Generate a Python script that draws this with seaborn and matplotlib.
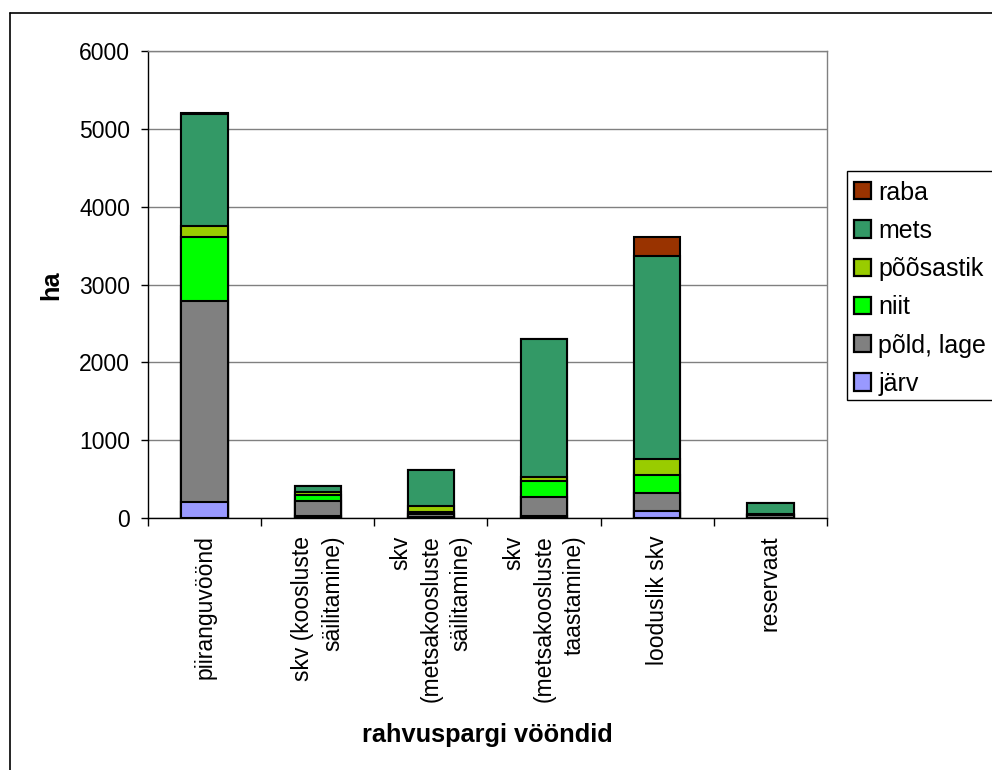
import matplotlib
matplotlib.use("Agg")
import matplotlib.pyplot as plt
from matplotlib.patches import Patch, Rectangle
from matplotlib.lines import Line2D
import numpy as np
import pandas as pd
import seaborn as sns

# Zones of the national park (x categories)
zones = [
    "piiranguvöönd",
    "skv (koosluste\nsäilitamine)",
    "skv\n(metsakoosluste\nsäilitamine)",
    "skv\n(metsakoosluste\ntaastamine)",
    "looduslik skv",
    "reservaat",
]

# Land-cover areas per zone, hectares (stacked bottom -> top)
jarv = [200, 30, 15, 30, 90, 5]
pold_lage = [2585, 190, 40, 240, 230, 30]
niit = [830, 75, 20, 200, 230, 5]
poosastik = [140, 40, 80, 60, 210, 5]
mets = [1440, 75, 465, 1770, 2600, 145]
raba = [10, 0, 0, 0, 250, 0]

layer_names = ["järv", "põld, lage", "niit", "põõsastik", "mets", "raba"]
layer_values = [jarv, pold_lage, niit, poosastik, mets, raba]
layer_colors = ["#9999FF", "#808080", "#00FF00", "#99CC00", "#339966", "#993300"]

sns.set_theme(style="white")
plt.rcParams["font.family"] = ["Liberation Sans", "DejaVu Sans"]
plt.rcParams["text.color"] = "black"
plt.rcParams["axes.labelcolor"] = "black"
plt.rcParams["xtick.color"] = "black"
plt.rcParams["ytick.color"] = "black"

W, H = 992, 770
fig = plt.figure(figsize=(W / 100, H / 100), dpi=100)
ax = fig.add_axes([148 / W, 1 - 518 / H, (827 - 148) / W, (518 - 51) / H])

# Stacked bars: draw cumulative totals from the top layer down
cum = np.cumsum(np.array(layer_values, dtype=float), axis=0)
for i in range(len(layer_names) - 1, -1, -1):
    df = pd.DataFrame({"zone": zones, "area": cum[i]})
    sns.barplot(data=df, x="zone", y="area", color=layer_colors[i],
                saturation=1, width=0.41, edgecolor="black", linewidth=1.5,
                ax=ax, zorder=3)

ax.set_ylim(0, 6000)
ax.set_xlim(-0.5, len(zones) - 0.5)
ax.set_yticks(range(0, 6001, 1000))
ax.yaxis.grid(True, color="#808080", linewidth=1.0, zorder=0)
ax.set_axisbelow(True)

for s in ["top", "right"]:
    ax.spines[s].set_color("#808080")
    ax.spines[s].set_linewidth(1.0)
for s in ["left", "bottom"]:
    ax.spines[s].set_color("black")
    ax.spines[s].set_linewidth(1.0)

ax.tick_params(axis="y", which="both", left=True, direction="out", length=5,
               width=1, color="black", labelsize=16.5, pad=8, labelcolor="black")
# category separators as x tick marks
ax.set_xticks(np.arange(len(zones)))
ax.set_xticklabels([])
ax.tick_params(axis="x", which="major", bottom=False)
ax.set_xticks(np.arange(-0.5, len(zones), 1.0), minor=True)
ax.tick_params(axis="x", which="minor", bottom=True, direction="out", length=6,
               width=1, color="black")
for i, z in enumerate(zones):
    ax.text(i, -225, z, rotation=90, ha="center", va="top", fontsize=16.5,
            multialignment="right", linespacing=1.4, color="black",
            transform=ax.transData, clip_on=False)

ax.set_xlabel("")
ax.set_ylabel("")
fig.text(487 / W, 1 - 735 / H, "rahvuspargi vööndid",
         ha="center", va="center", fontsize=18.3, fontweight="bold", color="black")
fig.text(51 / W, 1 - 285 / H, "ha", rotation=90, ha="center",
         va="center", fontsize=18.3, fontweight="bold", color="black")

# legend box, running off the right edge
fig.add_artist(Rectangle((847 / W, 1 - 400 / H), 200 / W, 229 / H,
                         transform=fig.transFigure, facecolor="white",
                         edgecolor="black", linewidth=1.0, zorder=1))
handles = [Patch(facecolor=c, edgecolor="black", linewidth=1.6)
           for c in layer_colors[::-1]]
leg = fig.legend(handles, layer_names[::-1], loc="upper left",
                 bbox_to_anchor=(854 / W, 1 - 180.5 / H), fontsize=18,
                 frameon=False, handlelength=0.68, handleheight=0.68,
                 handletextpad=0.3, labelspacing=0.57,
                 borderpad=0, borderaxespad=0)
leg.set_zorder(2)
for t in leg.get_texts():
    t.set_color("black")

# outer chart frame
fig.add_artist(Line2D([9.5 / W, 9.5 / W], [0, 1 - 13 / H], color="black",
                      linewidth=1.2, transform=fig.transFigure))
fig.add_artist(Line2D([9.5 / W, 1], [1 - 13 / H, 1 - 13 / H],
                      color="black", linewidth=1.2, transform=fig.transFigure))

fig.savefig("out.png", dpi=100)
